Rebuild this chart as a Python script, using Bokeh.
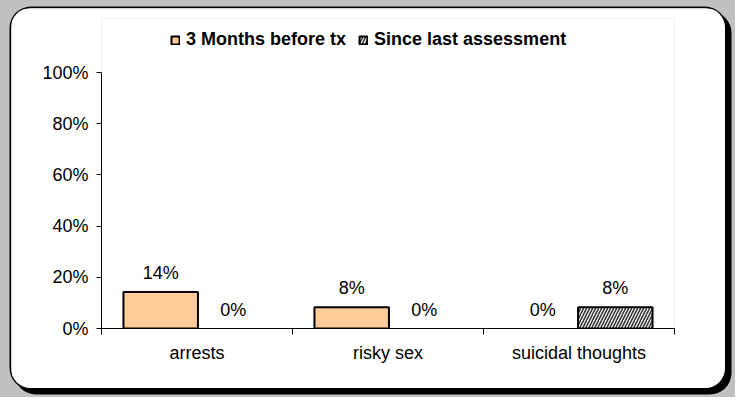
import numpy as np
from bokeh.plotting import figure
from bokeh.layouts import column
from bokeh.models import (ColumnDataSource, Range1d, FixedTicker, NumeralTickFormatter,
                          LabelSet, Legend, LegendItem)
from bokeh.core.properties import value
from bokeh.embed import file_html
from bokeh.resources import INLINE

categories = ["arrests", "risky sex", "suicidal thoughts"]
before_tx = [0.143, 0.083, 0.0]
since_last = [0.0, 0.0, 0.083]
series_names = ["3 Months before tx", "Since last assessment"]
y_ticks = [0, 0.2, 0.4, 0.6, 0.8, 1.0]

FONT = "Liberation Sans"
FS = "18px"

# layout (canvas pixels): value 0 at y=320, value 1 at y=64; frame extended up to y=10 for the legend
PW, PH = 714, 380
TOP, BOTTOM = 10, 60
Y_END = (PH - BOTTOM - TOP) / 256.0

p = figure(width=PW, height=PH, output_backend="svg", toolbar_location=None,
           x_range=Range1d(0, len(categories)), y_range=Range1d(0, Y_END),
           min_border_left=90, min_border_right=51, min_border_top=TOP, min_border_bottom=BOTTOM)
p.border_fill_color = "white"
p.background_fill_color = "white"
p.outline_line_color = None
p.grid.visible = False
p.margin = (8, 0, 0, 11)
p.styles = {
    "border-radius": "20px",
    "overflow": "hidden",
    "box-shadow": "0 0 0 1.5px #000000, 5px 5px 0 1.5px #000000",
}

idx = np.arange(len(categories))
off, bw = 0.19, 0.39

def make_src(vals, shift):
    return ColumnDataSource(dict(
        x=idx + 0.5 + shift,
        top=vals,
        label=[f"{round(v * 100)}%" for v in vals],
        la=[1.0 if v > 0 else 0.0 for v in vals],
    ))

src1 = make_src(before_tx, -off)
src2 = make_src(since_last, off)

r1 = p.vbar(x="x", top="top", width=bw, source=src1, fill_color="#FFCC99",
            line_color="black", line_width=2, line_alpha="la")
r2 = p.vbar(x="x", top="top", width=bw, source=src2, fill_color="#f2f2f2",
            hatch_pattern="/", hatch_color="#333333", hatch_scale=6, hatch_weight=1.5,
            line_color="black", line_width=2, line_alpha="la")

for s in (src1, src2):
    p.add_layout(LabelSet(x="x", y="top", text="label", source=s, text_align="center",
                          text_baseline="middle", y_offset=19, text_font=value(FONT),
                          text_font_size=FS, text_color="black"))

first_nz = lambda vals: next(i for i, v in enumerate(vals) if v > 0)
legend = Legend(items=[LegendItem(label=series_names[0], renderers=[r1], index=first_nz(before_tx)),
                       LegendItem(label=series_names[1], renderers=[r2], index=first_nz(since_last))],
                orientation="horizontal", location=(69, 278),
                label_text_font=FONT, label_text_font_style="bold", label_text_font_size=FS,
                label_text_color="black",
                glyph_width=10, glyph_height=10, label_standoff=6, spacing=12,
                padding=0, margin=0, border_line_color=None, background_fill_alpha=0)
p.add_layout(legend)

# y axis
ya = p.yaxis[0]
ya.bounds = (y_ticks[0], y_ticks[-1])
ya.ticker = FixedTicker(ticks=y_ticks)
ya.formatter = NumeralTickFormatter(format="0%")
ya.major_tick_out = 5
ya.major_tick_in = 0
ya.minor_tick_out = 0
ya.minor_tick_in = 0
ya.axis_line_color = "black"
ya.major_tick_line_color = "black"
ya.major_label_standoff = 8
ya.major_label_text_font = FONT
ya.major_label_text_font_size = FS
ya.major_label_text_color = "black"

# x axis: labels at category centres, ticks at boundaries
xa = p.xaxis[0]
xa.ticker = FixedTicker(ticks=list(idx + 0.5), minor_ticks=list(range(len(categories) + 1)))
xa.major_label_overrides = {float(i + 0.5): c for i, c in enumerate(categories)}
xa.major_tick_out = 0
xa.major_tick_in = 0
xa.minor_tick_out = 6
xa.minor_tick_in = 0
xa.minor_tick_line_color = "black"
xa.axis_line_color = "black"
xa.major_label_standoff = 8
xa.major_label_text_font = FONT
xa.major_label_text_font_size = FS
xa.major_label_text_color = "black"

page = column(p, width=735, height=397, styles={"background-color": "#c0c0c0"})

open("out.html", "w").write(file_html(page, INLINE))
